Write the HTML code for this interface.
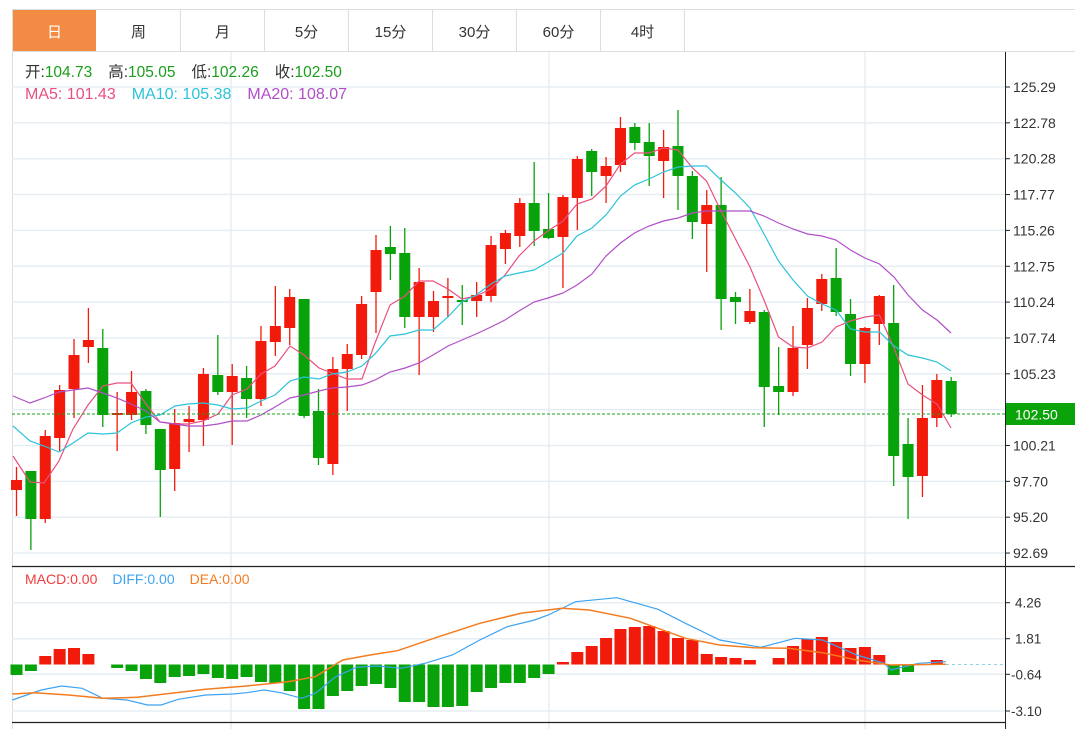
<!DOCTYPE html>
<html><head><meta charset="utf-8"><style>
body{margin:0;background:#fff;width:1075px;height:729px;overflow:hidden;font-family:"Liberation Sans","Noto Sans CJK SC",sans-serif}
svg{position:absolute;left:0;top:0}
</style></head><body>
<svg id="s" width="1075" height="729" xmlns="http://www.w3.org/2000/svg"></svg>
<script>
const s=document.getElementById('s');let h='';
const R='#f21a0a',G='#08a30a';
h+='<rect x="12.5" y="9.5" width="1070" height="730" fill="none" stroke="#ddd"/>';
const tabs=['日','周','月','5分','15分','30分','60分','4时'];
tabs.forEach((t,i)=>{const x=13+i*84;
 if(i==0)h+=`<rect x="${x}" y="10" width="83" height="41" fill="#f28b43"/>`;
 else h+=`<line x1="${x+83.5}" y1="10" x2="${x+83.5}" y2="51" stroke="#ddd"/>`;
 h+=`<text x="${x+41.5}" y="37" font-size="15" text-anchor="middle" fill="${i==0?'#fff':'#333'}">${t}</text>`;});
h+='<line x1="12" y1="51.5" x2="1075" y2="51.5" stroke="#ddd"/>';
for(let k=0;k<14;k++){const y=87+35.85*k;h+=`<line x1="12" y1="${y}" x2="1005" y2="${y}" stroke="#e6edf3" stroke-width="1.5"/>`;}
[231,549,865].forEach(x=>{h+=`<line x1="${x}" y1="52" x2="${x}" y2="729" stroke="#e6edf3" stroke-width="1.5"/>`;});
[602.7,638.7,674.3,711].forEach(y=>{h+=`<line x1="12" y1="${y}" x2="1005" y2="${y}" stroke="#e6edf3" stroke-width="1.5"/>`;});
const C=[[490,480,467,516],[471,519,471,550],[519,436,430,523],[438,390,385,451],[389,355,339,418],[347,340,308,363],[348,415,329,427],[415,413,392,451],[415,392,371,420],[391,425,389,434],[429,470,429,517],[469,423,409,491],[422,419,406,452],[420,374,368,446],[375,392,335,395],[392,376,364,445],[378,399,366,418],[399,341,326,406],[342,326,286,356],[328,297,289,345],[299,416,299,418],[411,458,389,465],[464,369,357,475],[369,354,344,411],[355,304,296,359],[292,250,235,333],[247,254,226,280],[253,317,228,328],[317,282,268,375],[317,301,291,332],[298,296,278,317],[300,302,285,325],[301,295,282,317],[296,245,236,302],[249,233,230,264],[236,203,198,247],[203,231,162,246],[229,238,193,239],[237,197,195,288],[198,159,156,230],[151,172,149,196],[176,166,157,203],[165,128,117,172],[127,143,123,150],[142,156,123,186],[161,147,130,198],[146,176,110,210],[176,222,171,239],[224,205,190,272],[205,299,177,330],[297,302,292,324],[322,311,289,324],[312,387,310,427],[386,392,347,415],[392,348,326,396],[345,308,298,369],[304,279,274,311],[278,312,248,316],[314,364,299,376],[364,328,327,383],[324,296,295,345],[323,456,285,486],[444,477,418,519],[476,418,385,497],[418,380,374,427],[381,414,377,417]];
C.forEach((c,i)=>{const x=16.5+14.38*i;const up=c[1]<c[0];const col=up?R:G;
 h+=`<line x1="${x}" y1="${c[2]}" x2="${x}" y2="${c[3]}" stroke="${col}" stroke-width="1.3"/>`;
 const t=Math.min(c[0],c[1]),b=Math.max(c[0],c[1]);h+=`<rect x="${x-5.5}" y="${t}" width="11" height="${Math.max(b-t,1.5)}" fill="${col}"/>`;});
function pl(pts,col,w){h+=`<polyline fill="none" stroke="${col}" stroke-width="${w||1.2}" points="${pts}"/>`;}
pl('13,456 30,482 44,483 59,461 73,429 88,405 103,386 117,383 131,383 146,404 160,422 175,424 188,424 203,421 218,414 232,395 247,389 261,374 275,366 290,346 304,355 319,368 332,373 347,379 362,379 375,343 390,305 405,296 419,281 433,281 448,289 462,299 476,296 491,289 505,275 519,256 534,241 548,231 563,221 577,204 592,199 606,186 620.5,164 634.5,153 649,153 663.5,148 678,150 692.5,168 706.5,181 721,211 735.5,239 750,267 764,300 778.5,337 793,347 807.5,348 822,342 836,327 850.5,321 865,317 879.5,315 894,348 908,384 922.5,395 937,404 951,428','#e9507f');
pl('13,426 30,441 44,446 59,452 73,443 88,433 103,434 117,433 131,423 146,417 160,415 175,406 188,404 203,403 218,405 232,409 247,408 261,401 275,395 290,381 304,377 319,379 332,374 347,372 362,366 375,354 390,336 405,334 419,330 433,330 448,317 462,302 476,295 491,284 505,276 519,273 534,270 548,262 563,253 577,236 592,228 606,215 620.5,196 634.5,185 649,179 663.5,172 678,167 692.5,166 706.5,166 721,180 735.5,193 750,208 764,234 778.5,261 793,280 807.5,296 822,304 836,310 850.5,329 865,332 879.5,332 894,346 908,355 922.5,358 937,362 951,371','#2dc3d9');
pl('13,396 30,403 44,398 59,392 73,390 88,388 103,393 117,398 131,404 146,411 160,422 175,424 188,426 203,426 218,424 232,421 247,421 261,415 275,407 290,398 304,395 319,391 332,388 347,387 362,385 375,380 390,372 405,368 419,363 433,355 448,346 462,340 476,334 491,327 505,320 519,311 534,302 548,298 563,293 577,285 592,274 606,256 620.5,243 634.5,233 649,226 663.5,221 678,218 692.5,213 706.5,211 721,211 735.5,211 750,211 764,216 778.5,223 793,229 807.5,234 822,236 836,240 850.5,250 865,258 879.5,264 894,277 908,295 922.5,310 937,320 951,333','#b04fc8');
h+='<line x1="12" y1="414" x2="1005" y2="414" stroke="#1aa01a" stroke-dasharray="3,2"/>';
h+='<rect x="1006" y="403" width="69" height="22" fill="#0aa30a"/><text x="1015" y="419.5" font-size="14" fill="#fff">102.50</text>';
h+='<line x1="1005.5" y1="52" x2="1005.5" y2="729" stroke="#222"/>';
const labs=['125.29','122.78','120.28','117.77','115.26','112.75','110.24','107.74','105.23',null,'100.21','97.70','95.20','92.69'];
labs.forEach((l,k)=>{if(!l)return;const y=87+35.85*k;h+=`<line x1="1005" y1="${y}" x2="1010" y2="${y}" stroke="#222"/><text x="1013" y="${y+5}" font-size="14" fill="#333">${l}</text>`;});
h+='<text x="25" y="77" font-size="15.5"><tspan fill="#333">开:</tspan><tspan fill="#1a9e1a">104.73</tspan><tspan fill="#333" dx="16">高:</tspan><tspan fill="#1a9e1a">105.05</tspan><tspan fill="#333" dx="16">低:</tspan><tspan fill="#1a9e1a">102.26</tspan><tspan fill="#333" dx="16">收:</tspan><tspan fill="#1a9e1a">102.50</tspan></text>';
h+='<text x="25" y="99" font-size="16"><tspan fill="#e9507f">MA5: 101.43</tspan><tspan fill="#2dc3d9" dx="16">MA10: 105.38</tspan><tspan fill="#b04fc8" dx="16">MA20: 108.07</tspan></text>';
h+='<line x1="12" y1="566.5" x2="1075" y2="566.5" stroke="#222" stroke-width="1.3"/><line x1="12" y1="722.5" x2="1005" y2="722.5" stroke="#222" stroke-width="1.3"/>';
h+='<text x="25" y="584" font-size="14"><tspan fill="#f03c3c">MACD:0.00</tspan><tspan fill="#3ea3f0" dx="15">DIFF:0.00</tspan><tspan fill="#f47c20" dx="15">DEA:0.00</tspan></text>';
const Z=664.5;
const M=[675,671,656,649,648,654,665,668,671,679,683,677,676,674,678,679,677,682,683,691,709,709,696,691,686,684,688,702,702,707,707,706,692,688,683,683,678,674,662,652,646,638,629,627,626,631,638,640,654,657,658,660,664,658,646,639,637,642,648,647,655,675,672,664,660,664];
M.forEach((y,i)=>{const x=16.5+14.38*i;if(Math.abs(y-Z)<1)return;const col=y<Z?R:G;h+=`<rect x="${x-6}" y="${Math.min(y,Z)}" width="12" height="${Math.abs(y-Z)}" fill="${col}"/>`;});
h+=`<line x1="940" y1="${Z}" x2="1005" y2="${Z}" stroke="#8fd3e6" stroke-dasharray="3,3"/>`;
const tr=a=>a.map(p=>(p[0]/1.459).toFixed(1)+','+(560+p[1]/3).toFixed(1)).join(' ');
pl(tr([[18,420],[60,390],[90,378],[120,385],[150,415],[185,420],[215,435],[235,435],[260,418],[300,405],[340,402],[360,398],[385,390],[410,398],[440,415],[460,400],[490,350],[520,322],[550,318],[585,325],[620,310],[660,285],[700,240],[740,200],[780,180],[800,165],[840,125],[900,113],[960,148],[1000,190],[1050,240],[1110,262],[1160,235],[1200,240],[1250,285],[1290,310],[1300,330],[1340,310],[1380,305]]),'#3ea3f0');
pl(tr([[18,402],[50,398],[100,405],[150,415],[200,412],[250,400],[300,388],[360,378],[420,365],[460,350],[500,300],[540,285],[580,272],[640,230],[700,190],[760,160],[820,145],[860,150],[920,175],[960,205],[1000,235],[1050,255],[1100,263],[1150,265],[1200,278],[1250,300],[1300,315],[1380,313]]),'#f47c20',1.5);
[['4.26',602.7],['1.81',638.7],['-0.64',674.3],['-3.10',711]].forEach(([l,y])=>{h+=`<line x1="1005" y1="${y}" x2="1010" y2="${y}" stroke="#222"/><text x="${l[0]=='-'?1011:1015}" y="${y+5}" font-size="13.5" fill="#333">${l}</text>`;});
s.innerHTML=h;
</script>
</body></html>
